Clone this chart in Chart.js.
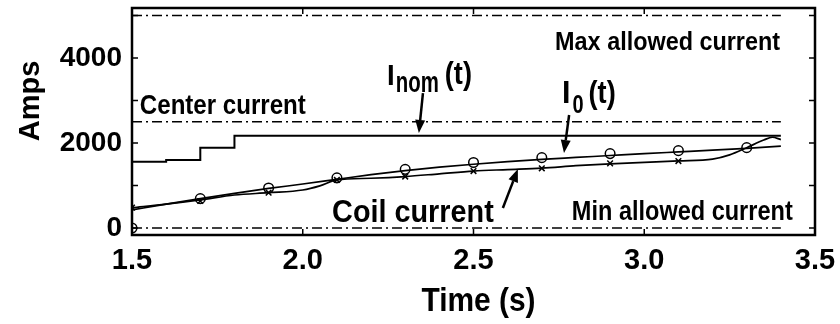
<!DOCTYPE html>
<html>
<head>
<meta charset="utf-8">
<script src="https://cdn.jsdelivr.net/npm/chart.js@4.4.1/dist/chart.umd.min.js"></script>
<style>
  html, body { margin: 0; padding: 0; background: #fff; }
  #wrap { width: 840px; height: 324px; }
</style>
</head>
<body>
<div id="wrap"><canvas id="coil-chart" width="840" height="324"></canvas></div>
<script>
// time axis (s) and tick positions
const xTicks = [1.5, 2.0, 2.5, 3.0, 3.5];
const yTicks = [0, 1000, 2000, 3000, 4000, 5000];
const yLabelled = [0, 2000, 4000];

// nominal current, stepped
const tNom = [1.5, 1.6, 1.7, 1.8, 3.4];
const iNom = [1560, 1600, 1890, 2170, 2170];

// I0(t) reference line
const tI0 = [1.5, 1.6, 1.7, 1.8, 1.9, 2.0, 2.1, 2.2, 2.3, 2.4, 2.5, 2.6, 2.7, 2.8, 2.9, 3.0, 3.1, 3.2, 3.3, 3.4];
const iI0 = [424, 560, 690, 815, 930, 1035, 1145, 1255, 1350, 1430, 1500, 1560, 1615, 1660, 1705, 1750, 1790, 1830, 1875, 1925];

// measured coil current
const tCoil = [1.5, 1.6, 1.7, 1.8, 1.9, 2.0, 2.05, 2.1, 2.2, 2.3, 2.4, 2.5, 2.6, 2.7, 2.8, 2.9, 3.0, 3.1, 3.2, 3.25, 3.3, 3.35, 3.375, 3.4];
const iCoil = [478, 560, 660, 776, 830, 894, 990, 1130, 1170, 1210, 1275, 1340, 1375, 1410, 1465, 1510, 1545, 1580, 1620, 1720, 1890, 2070, 2135, 2080];

// sample markers
const tCircle = [1.5, 1.7, 1.9, 2.1, 2.3, 2.5, 2.7, 2.9, 3.1, 3.3];
const iCircle = [0, 690, 940, 1180, 1380, 1540, 1655, 1750, 1820, 1890];
const tCross = [1.5, 1.7, 1.9, 2.1, 2.3, 2.5, 2.7, 2.9, 3.1];
const iCross = [480, 635, 830, 1130, 1210, 1340, 1405, 1520, 1575];

// allowed limits (dash-dot)
const limitNames = ['Max allowed current', 'Center current', 'Min allowed current'];
const limitVals = [5000, 2500, 0];
const limitT = [1.5, 3.4];

const pts = (xs, ys) => xs.map((x, i) => ({ x: x, y: ys[i] }));
const FONT = '"Liberation Sans", Arial, sans-serif';

const datasets = [
  { data: pts(tNom, iNom), stepped: 'before', borderColor: '#000', borderWidth: 2, pointRadius: 0 },
  { data: pts(tI0, iI0), borderColor: '#000', borderWidth: 1.7, pointRadius: 0, cubicInterpolationMode: 'monotone' },
  { data: pts(tCoil, iCoil), borderColor: '#000', borderWidth: 1.7, pointRadius: 0, cubicInterpolationMode: 'monotone' },
  { data: pts(tCircle, iCircle), showLine: false, pointStyle: 'circle', pointRadius: 4.8,
    pointBorderColor: '#000', pointBackgroundColor: 'rgba(0,0,0,0)', pointBorderWidth: 1.5 },
  { data: pts(tCross, iCross), showLine: false, pointStyle: 'crossRot', pointRadius: 4,
    pointBorderColor: '#000', pointBorderWidth: 1.5 }
];
limitVals.forEach((v) => {
  datasets.push({ data: pts(limitT, limitT.map(() => v)), borderColor: '#000', borderWidth: 1.5,
    borderDash: [10, 4, 2, 4], pointRadius: 0 });
});

function txt(ctx, s, x, y, size, sx, align) {
  ctx.save();
  ctx.font = 'bold ' + size + 'px ' + FONT;
  ctx.translate(x, y);
  ctx.scale(sx, 1);
  ctx.textAlign = align || 'left';
  ctx.textBaseline = 'alphabetic';
  ctx.fillStyle = '#000';
  ctx.fillText(s, 0, 0);
  const w = ctx.measureText(s).width * sx;
  ctx.restore();
  return w;
}

function arrow(ctx, x1, y1, x2, y2) {
  const a = Math.atan2(y2 - y1, x2 - x1);
  const hl = 13, hw = 5;
  const bx = x2 - hl * Math.cos(a), by = y2 - hl * Math.sin(a);
  ctx.save();
  ctx.strokeStyle = '#000';
  ctx.fillStyle = '#000';
  ctx.lineWidth = 2.5;
  ctx.beginPath();
  ctx.moveTo(x1, y1);
  ctx.lineTo(bx, by);
  ctx.stroke();
  ctx.beginPath();
  ctx.moveTo(x2, y2);
  ctx.lineTo(bx + hw * Math.sin(a), by - hw * Math.cos(a));
  ctx.lineTo(bx - hw * Math.sin(a), by + hw * Math.cos(a));
  ctx.closePath();
  ctx.fill();
  ctx.restore();
}

const decor = {
  id: 'decor',
  afterDraw(chart) {
    const ctx = chart.ctx;
    const a = chart.chartArea;
    const xs = chart.scales.x, ys = chart.scales.y;
    const X = (v) => xs.getPixelForValue(v);
    const Y = (v) => ys.getPixelForValue(v);

    // frame + inward ticks
    ctx.save();
    ctx.strokeStyle = '#000';
    ctx.lineWidth = 2.5;
    ctx.strokeRect(a.left, a.top, a.right - a.left, a.bottom - a.top);
    ctx.lineWidth = 1.5;
    ctx.beginPath();
    xTicks.forEach((t) => {
      const px = X(t);
      ctx.moveTo(px, a.bottom); ctx.lineTo(px, a.bottom - 6);
      ctx.moveTo(px, a.top); ctx.lineTo(px, a.top + 6);
    });
    yTicks.forEach((v) => {
      const py = Y(v);
      ctx.moveTo(a.left, py); ctx.lineTo(a.left + 6, py);
      ctx.moveTo(a.right, py); ctx.lineTo(a.right - 6, py);
    });
    ctx.stroke();
    ctx.restore();

    // limit labels
    txt(ctx, limitNames[0], X(2.739), Y(4188), 26, 0.9);
    txt(ctx, limitNames[1], X(1.523), Y(2682), 28, 0.86);
    txt(ctx, limitNames[2], X(2.788), Y(188), 28, 0.84);
    txt(ctx, 'Coil current', X(2.086), Y(141), 32, 0.9);

    // I_nom (t)
    let x0 = X(2.247), b = Y(3365);
    let w = txt(ctx, 'I', x0, b, 29, 0.95);
    w += txt(ctx, 'nom', x0 + w + 1, b + 7, 30, 0.68);
    txt(ctx, '(t)', x0 + w + 7, b - 1, 32, 0.85);

    // I_0 (t)
    x0 = X(2.759); b = Y(2941);
    w = txt(ctx, 'I', x0, b, 32, 0.95);
    w += txt(ctx, '0', x0 + w + 2, b + 10, 25, 0.8);
    txt(ctx, '(t)', x0 + w + 7, b, 32, 0.85);

    // arrows
    arrow(ctx, X(2.352), Y(3176), X(2.340), Y(2235));
    arrow(ctx, X(2.780), Y(2659), X(2.765), Y(1765));
    arrow(ctx, X(2.586), Y(470), X(2.630), Y(1388));

    // axis titles
    txt(ctx, 'Time (s)', (a.left + a.right) / 2 + 5, 311, 34, 0.88, 'center');
    ctx.save();
    ctx.translate(39, Y(2988));
    ctx.rotate(-Math.PI / 2);
    txt(ctx, 'Amps', 0, 0, 29, 1, 'center');
    ctx.restore();
  }
};

new Chart(document.getElementById('coil-chart'), {
  type: 'line',
  data: { datasets: datasets },
  options: {
    responsive: false,
    animation: false,
    layout: { padding: { left: 0, top: 8, right: 25, bottom: 0 } },
    plugins: { legend: { display: false }, tooltip: { enabled: false } },
    scales: {
      x: {
        type: 'linear', min: 1.5, max: 3.5,
        afterBuildTicks: (s) => { s.ticks = xTicks.map((v) => ({ value: v })); },
        afterFit: (s) => { s.height = 89; s.paddingLeft = 0; s.paddingRight = 0; },
        grid: { display: false, drawTicks: false },
        border: { display: false },
        ticks: { color: '#000', padding: 9, maxRotation: 0, autoSkip: false,
          font: { family: FONT, size: 29, weight: 'bold' },
          callback: (v) => v.toFixed(1) }
      },
      y: {
        type: 'linear', min: -165, max: 5176,
        afterBuildTicks: (s) => { s.ticks = yTicks.map((v) => ({ value: v })); },
        afterFit: (s) => { s.width = 132; s.paddingTop = 0; s.paddingBottom = 0; },
        grid: { display: false, drawTicks: false },
        border: { display: false },
        ticks: { color: '#000', padding: 10, autoSkip: false,
          font: { family: FONT, size: 28, weight: 'bold' },
          callback: (v) => yLabelled.includes(v) ? String(v) : '' }
      }
    }
  },
  plugins: [decor]
});
</script>
</body>
</html>
